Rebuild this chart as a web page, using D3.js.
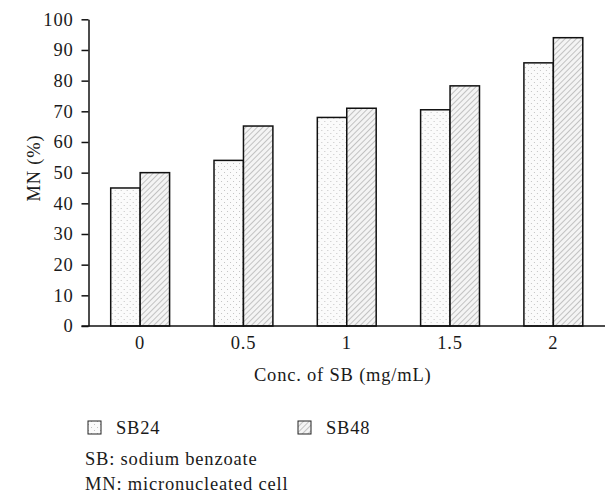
<!DOCTYPE html>
<html>
<head>
<meta charset="utf-8">
<script src="https://cdn.jsdelivr.net/npm/d3@7"></script>
<style>
  body { margin: 0; background: #fff; }
  text { font-family: "Liberation Serif", serif; fill: #1a1a1a; letter-spacing: 0.8px; }
</style>
</head>
<body>
<svg width="610" height="493"></svg>
<script>
const categories = ["0", "0.5", "1", "1.5", "2"];
const seriesNames = ["SB24", "SB48"];
const sb24 = [45, 54, 68, 70.5, 85.8];
const sb48 = [50, 65.2, 71, 78.3, 94];
const yTicks = [0, 10, 20, 30, 40, 50, 60, 70, 80, 90, 100];
const notes = ["SB: sodium benzoate", "MN: micronucleated cell"];

const svg = d3.select("svg");
const plotLeft = 88.5, plotRight = 605, plotTop = 19.3, plotBottom = 326;
const fontFamily = "'Liberation Serif', serif";
const fontSize = 18.5;

// fill patterns
const defs = svg.append("defs");
const dots = defs.append("pattern")
  .attr("id", "dots")
  .attr("patternUnits", "userSpaceOnUse")
  .attr("width", 6).attr("height", 6);
dots.append("rect").attr("width", 6).attr("height", 6).attr("fill", "#fbfbfb");
dots.append("rect").attr("x", 1).attr("y", 1).attr("width", 1).attr("height", 1).attr("fill", "#c4c4c4");
dots.append("rect").attr("x", 4).attr("y", 4).attr("width", 1).attr("height", 1).attr("fill", "#c4c4c4");

const hatch = defs.append("pattern")
  .attr("id", "hatch")
  .attr("patternUnits", "userSpaceOnUse")
  .attr("width", 4).attr("height", 4)
  .attr("patternTransform", "rotate(45)");
hatch.append("rect").attr("width", 4).attr("height", 4).attr("fill", "#f4f4f4");
hatch.append("line")
  .attr("x1", 0).attr("y1", 0).attr("x2", 0).attr("y2", 4)
  .attr("stroke", "#a0a0a0").attr("stroke-width", 1.2);

const fills = { SB24: "url(#dots)", SB48: "url(#hatch)" };

const x = d3.scaleBand()
  .domain(categories)
  .range([plotLeft, plotRight])
  .paddingInner(0.43)
  .paddingOuter(0.215);

const xs = d3.scaleBand()
  .domain(seriesNames)
  .range([0, x.bandwidth()]);

const y = d3.scaleLinear().domain([0, 100]).range([plotBottom, plotTop]);

const rows = categories.map((c, i) => ({ cat: c, SB24: sb24[i], SB48: sb48[i] }));

// bars
const g = svg.append("g");
g.selectAll("g")
  .data(rows)
  .enter().append("g")
  .attr("transform", d => `translate(${x(d.cat)},0)`)
  .selectAll("rect")
  .data(d => seriesNames.map(s => ({ s: s, v: d[s] })))
  .enter().append("rect")
  .attr("x", d => xs(d.s))
  .attr("y", d => y(d.v))
  .attr("width", xs.bandwidth())
  .attr("height", d => y(0) - y(d.v))
  .attr("fill", d => fills[d.s])
  .attr("stroke", "#111")
  .attr("stroke-width", 1.5);

// y axis
const yAxis = svg.append("g")
  .attr("transform", `translate(${plotLeft},0)`)
  .call(d3.axisLeft(y).tickValues(yTicks).tickSize(7).tickSizeOuter(0).tickPadding(8));
yAxis.selectAll("line, path").attr("stroke", "#111").attr("stroke-width", 1.5);
yAxis.selectAll("text").attr("font-size", fontSize).attr("fill", "#1a1a1a")
  .style("font-family", fontFamily);

// x axis
const xAxis = svg.append("g")
  .attr("transform", `translate(0,${plotBottom})`)
  .call(d3.axisBottom(x).tickSize(0).tickPadding(10));
xAxis.select(".domain").attr("d", `M${plotLeft - 7},0H${plotRight}`)
  .attr("stroke", "#111").attr("stroke-width", 1.5);
xAxis.selectAll("text").attr("font-size", fontSize).attr("fill", "#1a1a1a")
  .style("font-family", fontFamily);

// axis titles
svg.append("text")
  .attr("x", (plotLeft + plotRight) / 2 - 4)
  .attr("y", 381)
  .attr("text-anchor", "middle")
  .attr("font-size", fontSize)
  .text("Conc. of SB (mg/mL)");

svg.append("text")
  .attr("transform", "translate(40,168) rotate(-90)")
  .attr("text-anchor", "middle")
  .attr("font-size", fontSize)
  .text("MN (%)");

// legend
const legendX = [88, 298];
seriesNames.forEach((s, i) => {
  svg.append("rect")
    .attr("x", legendX[i]).attr("y", 421)
    .attr("width", 13).attr("height", 13)
    .attr("fill", fills[s])
    .attr("stroke", "#222").attr("stroke-width", 1);
  svg.append("text")
    .attr("x", legendX[i] + 28).attr("y", 434)
    .attr("font-size", fontSize)
    .text(s);
});

notes.forEach((t, i) => {
  svg.append("text")
    .attr("x", 85).attr("y", 465 + i * 25)
    .attr("font-size", fontSize)
    .text(t);
});
</script>
</body>
</html>
